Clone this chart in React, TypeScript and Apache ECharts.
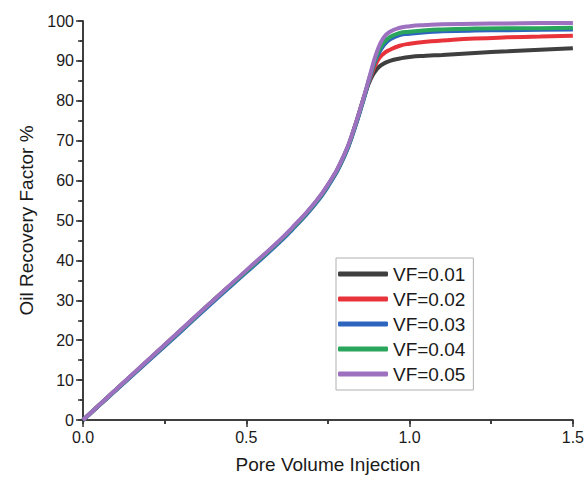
import React, { useEffect, useRef } from "react";
import * as echarts from "echarts";

const pv = [0, 0.1, 0.2, 0.3, 0.4, 0.5, 0.6, 0.65, 0.7, 0.75, 0.8, 0.83, 0.86, 0.88, 0.9, 0.92, 0.94, 0.97, 1.0, 1.05, 1.1, 1.2, 1.3, 1.4, 1.5];

const vf001 = [0, 7.5, 15, 22.5, 30, 37.3, 44.7, 48.8, 53.3, 58.8, 66.3, 72.9, 80.8, 85.3, 88.0, 89.3, 90.0, 90.6, 91.0, 91.3, 91.5, 92.0, 92.4, 92.8, 93.2];
const vf002 = [0, 7.5, 15, 22.5, 30, 37.3, 44.7, 48.8, 53.3, 58.8, 66.3, 72.9, 80.8, 85.8, 89.8, 91.8, 92.8, 93.8, 94.3, 94.8, 95.1, 95.6, 95.9, 96.1, 96.3];
const vf003 = [0, 7.4, 14.8, 22.2, 29.7, 37.0, 44.4, 48.5, 53.0, 58.5, 66.0, 72.6, 80.5, 86.2, 91.0, 93.8, 95.4, 96.5, 96.8, 97.2, 97.4, 97.6, 97.7, 97.8, 97.9];
const vf004 = [0, 7.5, 15, 22.5, 30, 37.3, 44.7, 48.8, 53.3, 58.8, 66.3, 72.9, 80.8, 86.5, 91.5, 94.5, 96.0, 97.0, 97.3, 97.7, 97.9, 98.1, 98.2, 98.2, 98.3];
const vf005 = [0, 7.6, 15.1, 22.6, 30.1, 37.5, 44.9, 49.0, 53.5, 59.0, 66.5, 73.1, 81.0, 86.8, 92.3, 95.8, 97.3, 98.3, 98.7, 99.0, 99.2, 99.3, 99.4, 99.5, 99.5];

const seriesNames = ["VF=0.01", "VF=0.02", "VF=0.03", "VF=0.04", "VF=0.05"];
const seriesData = [vf001, vf002, vf003, vf004, vf005];
const seriesColors = ["#3f3f3f", "#e8333b", "#2d64bd", "#29a65b", "#9d70c0"];

export default function App() {
  const ref = useRef<HTMLDivElement>(null);
  useEffect(() => {
    if (!ref.current) return;
    const chart = echarts.init(ref.current, null, { renderer: "svg" });
    const font = "Liberation Sans, Arial, sans-serif";
    const axisColor = "#333";
    chart.setOption({
      animation: false,
      backgroundColor: "#fff",
      grid: { left: 83, right: 12, top: 21, bottom: 57 },
      legend: {
        orient: "vertical",
        left: 336,
        top: 258,
        padding: [6, 8, 6, 2],
        itemGap: 5,
        itemWidth: 50,
        itemHeight: 5,
        icon: "roundRect",
        borderColor: "#b0b0b0",
        borderWidth: 1,
        backgroundColor: "#fff",
        textStyle: { fontFamily: font, fontSize: 19, color: "#1a1a1a", lineHeight: 20 },
        data: seriesNames,
      },
      xAxis: [
        {
          type: "value",
          min: 0,
          max: 1.5,
          interval: 0.5,
          position: "bottom",
          name: "Pore Volume Injection",
          nameLocation: "middle",
          nameGap: 35,
          nameTextStyle: { fontFamily: font, fontSize: 19, color: "#1a1a1a" },
          axisLine: { lineStyle: { color: axisColor, width: 1.5 } },
          axisTick: { show: true, length: 7, lineStyle: { color: axisColor, width: 1.5 } },
          minorTick: { show: true, splitNumber: 2, length: 4, lineStyle: { color: axisColor, width: 1.5 } },
          axisLabel: { fontFamily: font, fontSize: 16, color: "#1a1a1a", margin: 9, formatter: (v: number) => v.toFixed(1) },
          splitLine: { show: false },
        },
        {
          type: "value",
          min: 0,
          max: 1.5,
          interval: 0.25,
          position: "top",
          axisLine: { show: true, lineStyle: { color: axisColor, width: 1.5 } },
          axisTick: { show: true, inside: true, length: 4, lineStyle: { color: axisColor, width: 1.5 } },
          axisLabel: { show: false },
          splitLine: { show: false },
        },
      ],
      yAxis: [
        {
          type: "value",
          min: 0,
          max: 100,
          interval: 10,
          position: "left",
          name: "Oil Recovery Factor %",
          nameLocation: "middle",
          nameGap: 46,
          nameTextStyle: { fontFamily: font, fontSize: 19, color: "#1a1a1a" },
          axisLine: { show: true, lineStyle: { color: axisColor, width: 1.5 } },
          axisTick: { show: true, length: 7, lineStyle: { color: axisColor, width: 1.5 } },
          minorTick: { show: true, splitNumber: 2, length: 3, lineStyle: { color: axisColor, width: 1.5 } },
          axisLabel: { fontFamily: font, fontSize: 16, color: "#1a1a1a", margin: 9 },
          splitLine: { show: false },
        },
        {
          type: "value",
          min: 0,
          max: 100,
          interval: 5,
          position: "right",
          axisLine: { show: true, lineStyle: { color: axisColor, width: 1.5 } },
          axisTick: { show: true, inside: true, length: 5, lineStyle: { color: axisColor, width: 1.5 } },
          axisLabel: { show: false },
          splitLine: { show: false },
        },
      ],
      series: seriesNames.map((name, i) => ({
        name,
        type: "line",
        xAxisIndex: 0,
        yAxisIndex: 0,
        data: pv.map((x, j) => [x, seriesData[i][j]]),
        showSymbol: false,
        symbol: "none",
        smooth: 0.5,
        color: seriesColors[i],
        lineStyle: { color: seriesColors[i], width: 4 },
        z: 2 + i,
      })),
    });
    return () => chart.dispose();
  }, []);
  return <div ref={ref} style={{ position: "fixed", left: 0, top: 0, width: 587, height: 479 }} />;
}
